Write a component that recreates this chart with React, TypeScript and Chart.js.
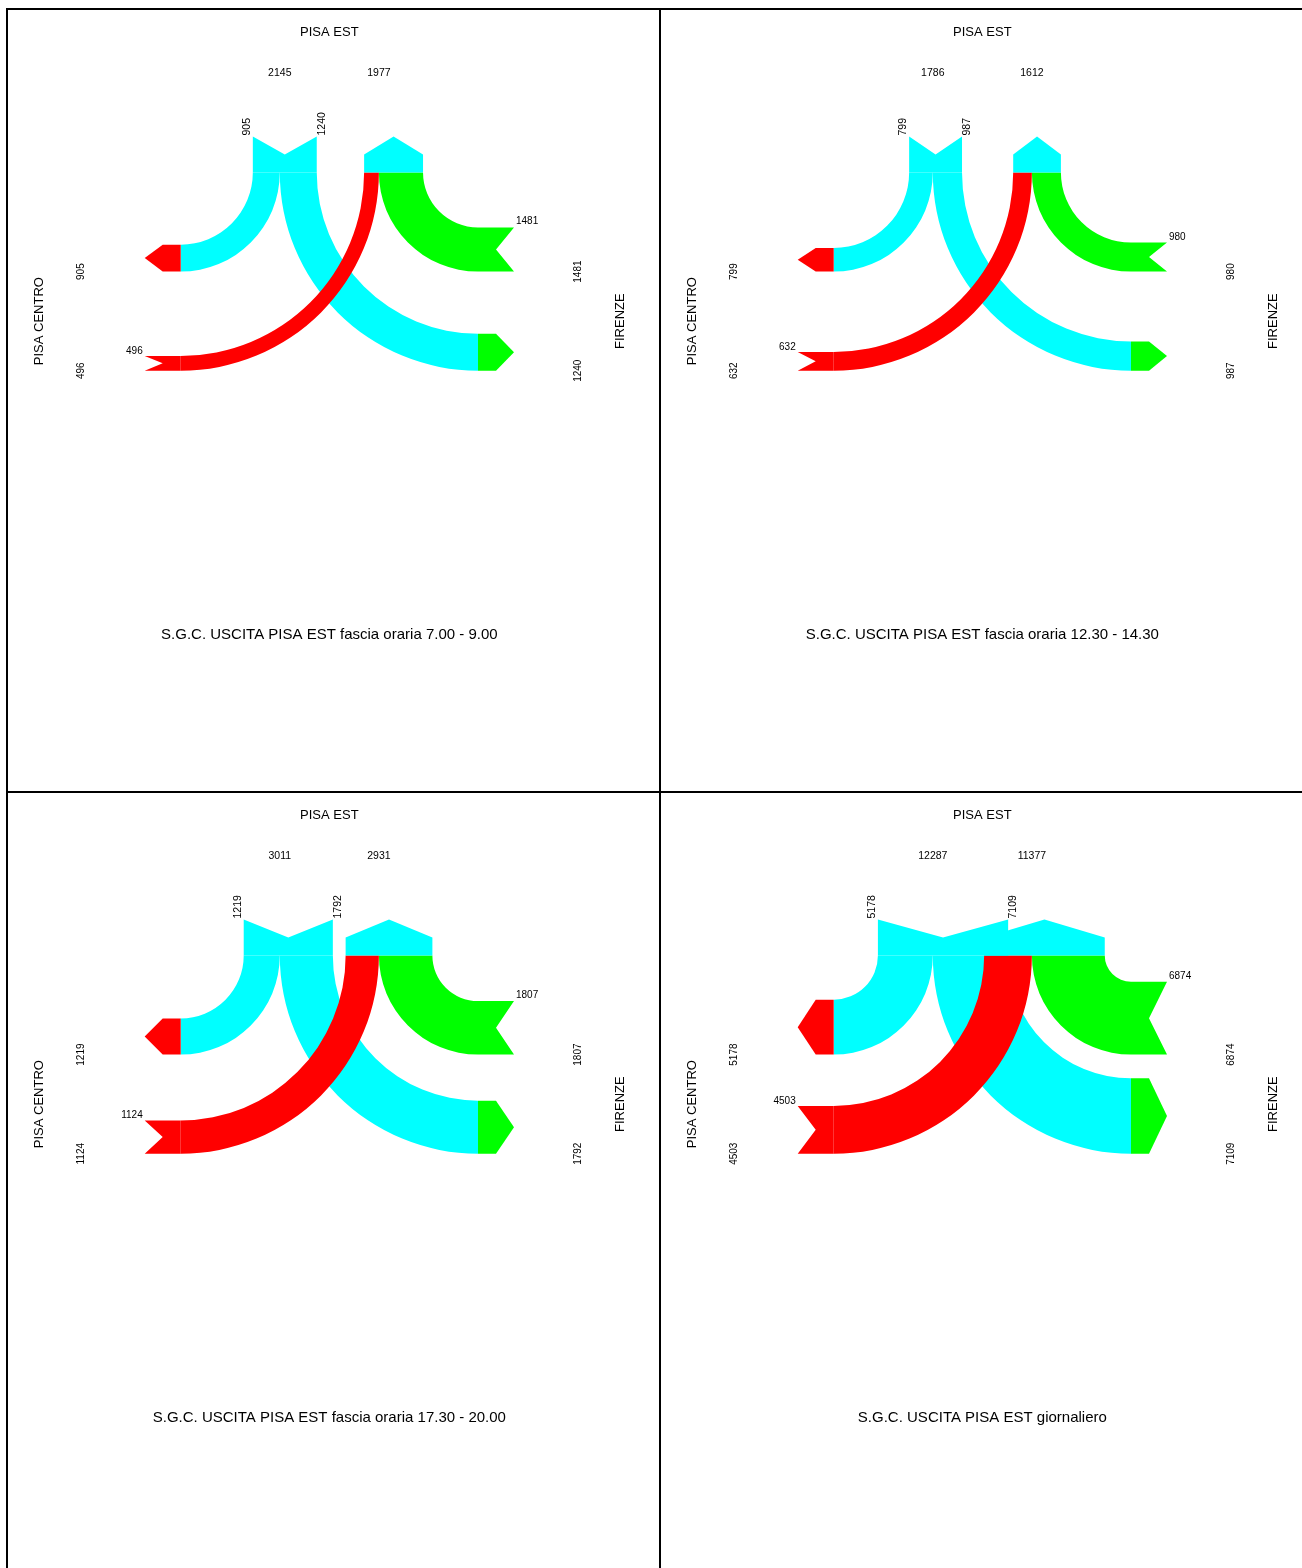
import React, { useEffect, useRef } from "react";
import { Chart, registerables } from "chart.js";

Chart.register(...registerables);

// ---- data (vehicles) ----
const panelTitles = [
  "S.G.C. USCITA PISA EST fascia oraria 7.00 - 9.00",
  "S.G.C. USCITA PISA EST fascia oraria 12.30 - 14.30",
  "S.G.C. USCITA PISA EST fascia oraria 17.30 - 20.00",
  "S.G.C. USCITA PISA EST giornaliero",
];
const nodeTop = "PISA EST";
const nodeLeft = "PISA CENTRO";
const nodeRight = "FIRENZE";
// PISA EST -> PISA CENTRO
const estToCentro = [905, 799, 1219, 5178];
// PISA EST -> FIRENZE
const estToFirenze = [1240, 987, 1792, 7109];
// PISA CENTRO -> PISA EST
const centroToEst = [496, 632, 1124, 4503];
// FIRENZE -> PISA EST
const firenzeToEst = [1481, 980, 1807, 6874];

// ---- layout / style (not data) ----
const bandScale = [0.0298, 0.0296, 0.0296, 0.0106]; // px per vehicle per panel
const PANEL_W = 651;
const PANEL_H = 781;
const LX = 172.7;
const RX = 470;
const TY = 162.5;
const R = 99.1;
const AL = 36; // arrow length
const AH = 18; // arrow point depth
const CYAN = "#00FFFF";
const RED = "#FF0000";
const GREEN = "#00FF00";
const FONT = "'Liberation Sans', Arial, Helvetica, sans-serif";

function makePlugin(idx: number) {
  return {
    id: "flowDiagram" + idx,
    afterDraw(chart: any) {
      const ctx: CanvasRenderingContext2D = chart.ctx;
      const xs = chart.scales.x;
      const ys = chart.scales.y;
      const X = (v: number) => xs.getPixelForValue(v);
      const Y = (v: number) => ys.getPixelForValue(v);
      const s = bandScale[idx];
      const a = estToCentro[idx] * s;
      const b = estToFirenze[idx] * s;
      const c = centroToEst[idx] * s;
      const d = firenzeToEst[idx] * s;
      const P1 = LX + R;
      const P2 = LX + 2 * R;

      const ring = (cx: number, cy: number, rOut: number, w: number, a0: number, a1: number, color: string) => {
        const pcx = X(cx);
        const pcy = Y(cy);
        const ro = X(cx + rOut) - pcx;
        const ri = X(cx + rOut - w) - pcx;
        ctx.beginPath();
        ctx.arc(pcx, pcy, ro, a0, a1, false);
        ctx.arc(pcx, pcy, ri, a1, a0, true);
        ctx.closePath();
        ctx.fillStyle = color;
        ctx.fill();
      };
      const poly = (pts: number[][], color: string) => {
        ctx.beginPath();
        pts.forEach((p, k) => {
          if (k === 0) ctx.moveTo(X(p[0]), Y(p[1]));
          else ctx.lineTo(X(p[0]), Y(p[1]));
        });
        ctx.closePath();
        ctx.fillStyle = color;
        ctx.fill();
      };

      ctx.save();
      // bands
      ring(LX, TY, R, a, 0, Math.PI / 2, CYAN);
      ring(RX, TY, 2 * R, b, Math.PI / 2, Math.PI, CYAN);
      ring(RX, TY, R, d, Math.PI / 2, Math.PI, GREEN);
      ring(LX, TY, 2 * R, c, 0, Math.PI / 2, RED);

      // top exit (pointed up)
      const e0 = P2 - c, e1 = P2 + d;
      poly([[e0, TY], [e0, TY - AH], [(e0 + e1) / 2, TY - AL], [e1, TY - AH], [e1, TY]], CYAN);
      // top entry (notched)
      const n0 = P1 - a, n1 = P1 + b;
      poly([[n0, TY], [n0, TY - AL], [(n0 + n1) / 2, TY - AH], [n1, TY - AL], [n1, TY]], CYAN);
      // left exit (pointed left)
      let yt = TY + R - a, yb = TY + R;
      poly([[LX, yt], [LX - AH, yt], [LX - AL, (yt + yb) / 2], [LX - AH, yb], [LX, yb]], RED);
      // left entry (notched)
      yt = TY + 2 * R - c; yb = TY + 2 * R;
      poly([[LX, yt], [LX - AL, yt], [LX - AH, (yt + yb) / 2], [LX - AL, yb], [LX, yb]], RED);
      // right entry (notched)
      yt = TY + R - d; yb = TY + R;
      poly([[RX, yt], [RX + AL, yt], [RX + AH, (yt + yb) / 2], [RX + AL, yb], [RX, yb]], GREEN);
      // right exit (pointed right)
      yt = TY + 2 * R - b; yb = TY + 2 * R;
      poly([[RX, yt], [RX + AH, yt], [RX + AL, (yt + yb) / 2], [RX + AH, yb], [RX, yb]], GREEN);

      // ---- text ----
      ctx.fillStyle = "#000";
      const text = (t: string, x: number, y: number, size: number, align: CanvasTextAlign, base: CanvasTextBaseline, rot = false) => {
        ctx.save();
        ctx.font = `${size}px ${FONT}`;
        ctx.textAlign = align;
        ctx.textBaseline = base;
        ctx.translate(X(x), Y(y));
        if (rot) ctx.rotate(-Math.PI / 2);
        ctx.fillText(t, 0, 0);
        ctx.restore();
      };
      text(nodeTop, (LX + RX) / 2, 22, 13, "center", "middle");
      text(String(estToCentro[idx] + estToFirenze[idx]), P1, 63, 10.5, "center", "middle");
      text(String(centroToEst[idx] + firenzeToEst[idx]), P2, 63, 10.5, "center", "middle");
      text(String(estToCentro[idx]), n0 - 3, TY - AL - 1, 10.5, "left", "alphabetic", true);
      text(String(estToFirenze[idx]), n1 + 8, TY - AL - 1, 10.5, "left", "alphabetic", true);

      text(nodeLeft, 31, TY + 1.5 * R, 13, "center", "middle", true);
      text(nodeRight, 612, TY + 1.5 * R, 13, "center", "middle", true);
      text(String(estToCentro[idx]), 73, TY + R, 10, "center", "middle", true);
      text(String(centroToEst[idx]), 73, TY + 2 * R, 10, "center", "middle", true);
      text(String(firenzeToEst[idx]), 570, TY + R, 10, "center", "middle", true);
      text(String(estToFirenze[idx]), 570, TY + 2 * R, 10, "center", "middle", true);

      text(String(firenzeToEst[idx]), RX + AL + 2, TY + R - d - 3, 10, "left", "alphabetic");
      text(String(centroToEst[idx]), LX - AL - 2, TY + 2 * R - c - 2, 10, "right", "alphabetic");

      text(panelTitles[idx], (LX + RX) / 2, 625, 15, "center", "middle");
      ctx.restore();
    },
  };
}

function Panel({ idx }: { idx: number }) {
  const ref = useRef<HTMLCanvasElement>(null);
  useEffect(() => {
    if (!ref.current) return;
    const chart = new Chart(ref.current, {
      type: "scatter",
      data: { datasets: [{ data: [], pointRadius: 0 }] },
      options: {
        responsive: false,
        animation: false,
        events: [],
        layout: { padding: 0 },
        plugins: { legend: { display: false }, tooltip: { enabled: false } },
        scales: {
          x: { type: "linear", min: 0, max: PANEL_W, display: false },
          y: { type: "linear", min: 0, max: PANEL_H, reverse: true, display: false },
        },
      },
      plugins: [makePlugin(idx)],
    } as any);
    return () => chart.destroy();
  }, [idx]);
  const col = idx % 2;
  const row = Math.floor(idx / 2);
  return (
    <div
      style={{
        position: "absolute",
        left: 6 + col * 653,
        top: 8 + row * 783,
        width: PANEL_W + 4,
        height: PANEL_H + 4,
        border: "2px solid #000",
        boxSizing: "border-box",
        background: "#fff",
      }}
    >
      <canvas ref={ref} width={PANEL_W} height={PANEL_H} style={{ display: "block", width: PANEL_W, height: PANEL_H }} />
    </div>
  );
}

export default function App() {
  return (
    <div style={{ position: "fixed", left: 0, top: 0, width: 1302, height: 1568, overflow: "hidden", background: "#fff" }}>
      {[0, 1, 2, 3].map((i) => (
        <Panel key={i} idx={i} />
      ))}
    </div>
  );
}
